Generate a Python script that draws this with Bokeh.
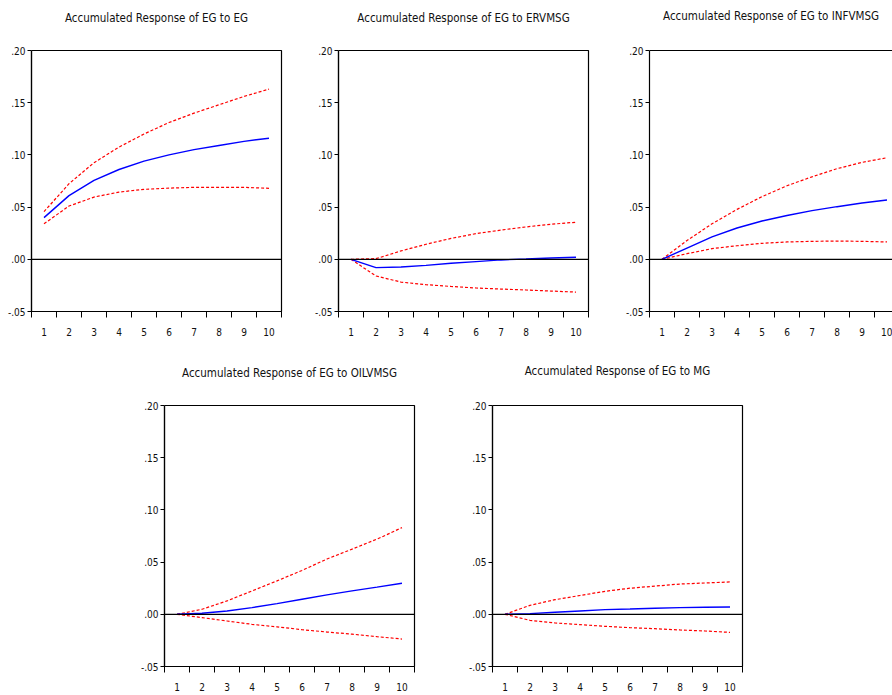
from bokeh.plotting import figure
from bokeh.layouts import column, row, Spacer
from bokeh.models import Range1d, FixedTicker, LinearAxis, Span
from bokeh.embed import file_html
from bokeh.resources import INLINE

# ---------------- data ----------------
periods = [1, 2, 3, 4, 5, 6, 7, 8, 9, 10]
x_minor_ticks = [0.5, 1.5, 2.5, 3.5, 4.5, 5.5, 6.5, 7.5, 8.5, 9.5, 10.5]
y_ticks = [-0.05, 0.0, 0.05, 0.10, 0.15, 0.20]
y_tick_labels = ["-.05", ".00", ".05", ".10", ".15", ".20"]

titles = [
    "Accumulated Response of EG to EG",
    "Accumulated Response of EG to ERVMSG",
    "Accumulated Response of EG to INFVMSG",
    "Accumulated Response of EG to OILVMSG",
    "Accumulated Response of EG to MG",
]

eg_resp = [0.0399, 0.061, 0.0756, 0.086, 0.094, 0.100, 0.105, 0.109, 0.113, 0.116]
eg_upper = [0.0456, 0.0724, 0.0925, 0.1075, 0.120, 0.131, 0.140, 0.148, 0.156, 0.163]
eg_lower = [0.034, 0.051, 0.0596, 0.0644, 0.067, 0.0682, 0.0689, 0.0689, 0.0689, 0.068]

erv_resp = [0.0, -0.008, -0.0074, -0.0058, -0.0038, -0.0022, -0.0006, 0.0003, 0.0013, 0.002]
erv_upper = [0.0, 0.0006, 0.008, 0.0144, 0.020, 0.0246, 0.028, 0.031, 0.0336, 0.0355]
erv_lower = [0.0, -0.016, -0.0218, -0.0243, -0.026, -0.0275, -0.0285, -0.0294, -0.0304, -0.0314]

inf_resp = [0.0, 0.0108, 0.0214, 0.030, 0.0367, 0.042, 0.0466, 0.0504, 0.0539, 0.0568]
inf_upper = [0.0, 0.018, 0.034, 0.0478, 0.060, 0.0705, 0.079, 0.0868, 0.0928, 0.0973]
inf_lower = [0.0, 0.0054, 0.0102, 0.013, 0.0153, 0.0166, 0.0172, 0.0175, 0.0172, 0.0166]

oil_resp = [0.0, 0.001, 0.0032, 0.0064, 0.0102, 0.0144, 0.0186, 0.0224, 0.026, 0.0298]
oil_upper = [0.0, 0.0048, 0.0128, 0.0224, 0.032, 0.042, 0.053, 0.0624, 0.072, 0.083]
oil_lower = [0.0, -0.0032, -0.0064, -0.0096, -0.012, -0.0147, -0.017, -0.019, -0.0214, -0.0237]

mg_resp = [0.0, 0.0006, 0.0019, 0.0032, 0.0045, 0.0051, 0.0058, 0.0064, 0.0067, 0.007]
mg_upper = [0.0, 0.0086, 0.014, 0.018, 0.022, 0.025, 0.027, 0.029, 0.030, 0.031]
mg_lower = [0.0, -0.0058, -0.0083, -0.0099, -0.0115, -0.0128, -0.0138, -0.015, -0.016, -0.0173]

FONT = "DejaVu Sans Condensed"
Y0, Y1 = -0.05, 0.20
X0 = 0.5


def panel(title, resp, upper, lower, bl, br, bt, bb, title_gap, fw=250, fh=261,
          x_end=10.5, right_border=True, label_standoff=10):
    p = figure(width=bl + fw + br, height=bt + fh + bb,
               min_border_left=bl, min_border_right=br,
               min_border_top=bt, min_border_bottom=bb,
               x_range=Range1d(X0, x_end), y_range=Range1d(Y0, Y1),
               output_backend="svg", toolbar_location=None)
    p.xgrid.visible = False
    p.ygrid.visible = False
    p.background_fill_color = "white"
    p.border_fill_color = "white"

    xa = p.below[0]
    xa.ticker = FixedTicker(ticks=periods, minor_ticks=x_minor_ticks)
    xa.major_tick_out = 0
    xa.major_tick_in = 0
    xa.minor_tick_out = 6
    xa.minor_tick_in = 0
    xa.minor_tick_line_color = "black"
    xa.axis_line_color = "black"
    xa.axis_line_width = 1.2
    xa.major_label_standoff = label_standoff
    xa.major_label_text_font = FONT
    xa.major_label_text_font_size = "10px"
    xa.major_label_text_color = "#111111"

    ya = p.left[0]
    ya.ticker = FixedTicker(ticks=y_ticks)
    ya.major_label_overrides = {t: lab for t, lab in zip(y_ticks, y_tick_labels)}
    ya.major_tick_out = 4
    ya.major_tick_in = 0
    ya.minor_tick_out = 0
    ya.minor_tick_in = 0
    ya.axis_line_color = "black"
    ya.axis_line_width = 1.2
    ya.major_label_standoff = 2
    ya.major_label_text_font = FONT
    ya.major_label_text_font_size = "10px"
    ya.major_label_text_color = "#111111"

    if right_border:
        p.outline_line_color = "black"
        p.outline_line_width = 1.2
        p.outline_line_alpha = 1.0
    else:
        p.outline_line_color = None

    # blank top axis: one white tick at the frame's left edge reserves the
    # gap between the frame and the title (and draws the top border line
    # when the frame has no outline)
    top = LinearAxis(ticker=FixedTicker(ticks=[X0], minor_ticks=[]),
                     major_tick_out=int(round(title_gap - 6.5)), major_tick_in=0,
                     minor_tick_out=0, minor_tick_in=0,
                     major_tick_line_color="white", major_tick_line_width=1,
                     major_label_overrides={X0: ""},
                     major_label_standoff=0, major_label_text_font_size="1px",
                     axis_line_color=None if right_border else "black",
                     axis_line_width=1.2)
    p.add_layout(top, "above")

    p.title.text = title
    p.title.text_font = FONT
    p.title.text_font_size = "11.5px"
    p.title.text_font_style = "normal"
    p.title.text_color = "#111111"
    p.title.align = "center"
    p.title.standoff = 0

    p.add_layout(Span(location=0, dimension="width", line_color="black", line_width=1.3))
    p.line(periods, upper, line_color="#ff0000", line_width=1.2, line_dash="3 2")
    p.line(periods, lower, line_color="#ff0000", line_width=1.2, line_dash="3 2")
    p.line(periods, resp, line_color="#0000ff", line_width=1.4)
    return p


p1 = panel(titles[0], eg_resp, eg_upper, eg_lower, bl=31, br=27, bt=50, bb=34, title_gap=33)
p2 = panel(titles[1], erv_resp, erv_upper, erv_lower, bl=30, br=31, bt=50, bb=34, title_gap=33)
p3 = panel(titles[2], inf_resp, inf_upper, inf_lower, bl=30, br=0, bt=50, bb=34, title_gap=34.5,
           fw=243, x_end=X0 + 243 / 25, right_border=False)
p4 = panel(titles[3], oil_resp, oil_upper, oil_lower, bl=30, br=48, bt=60, bb=28, title_gap=32)
p5 = panel(titles[4], mg_resp, mg_upper, mg_lower, bl=30, br=10, bt=60, bb=28, title_gap=35)

layout = column(row(p1, p2, p3), row(Spacer(width=134, height=10), p4, p5))

open("out.html", "w").write(file_html(layout, INLINE))
